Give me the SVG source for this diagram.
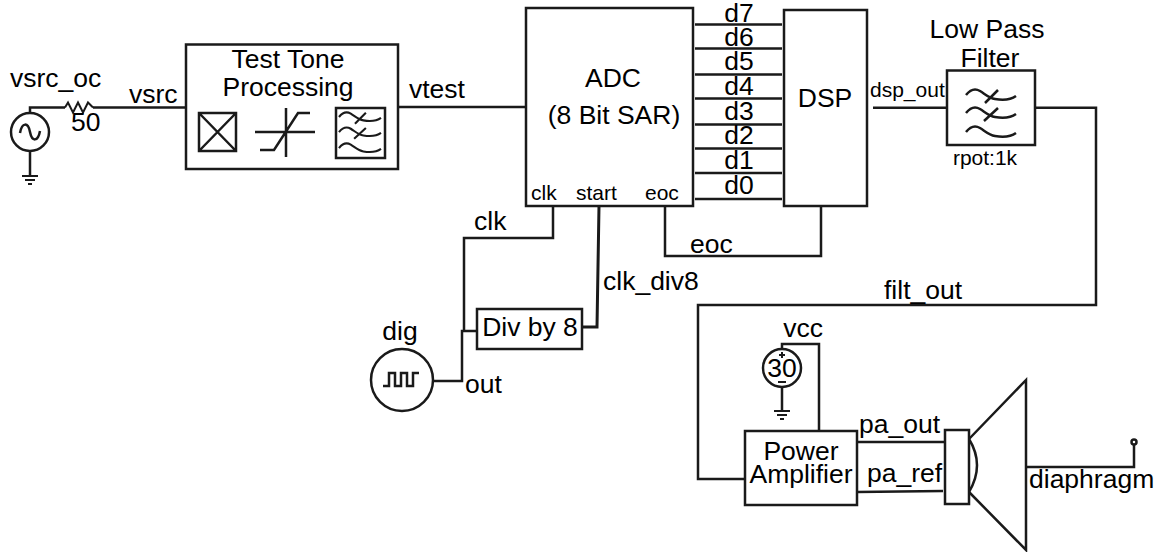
<svg xmlns="http://www.w3.org/2000/svg" width="1156" height="552" viewBox="0 0 1156 552">
<style>
text{font-family:"Liberation Sans",Arial,sans-serif;font-size:26.500px;fill:#000}
.s{font-size:21px}
.m{text-anchor:middle}
.b{fill:#fff;stroke:#1a1a1a;stroke-width:2.500}
.w{fill:none;stroke:#1a1a1a;stroke-width:2.500}
.t{fill:none;stroke:#1a1a1a;stroke-width:2}
</style>
<defs>
<g id="flt" class="w">
<path d="M0,0c4,-5 9,-7 14,-4s9,7 15,8 14,2 21,-3M0,18c4,-5 9,-7 14,-4s9,7 15,8 14,2 21,-3M0,37c4,-5 9,-7 14,-4s9,7 15,8 14,2 21,-3M19,8L32,-5M18,26L32,13"/>
</g>
<g id="gnd" class="t"><path d="M-8,0H8M-5,4H5M-2,8H2"/></g>
</defs>
<g id="connectors" class="w">
<path d="M30,113V107.500H65M93,107.500H185"/>
<path d="M65,107.500l3,-5 5,10 5,-10 5,10 5,-10 5,5" class="t"/>
<path d="M30,151V176"/>
<path d="M398,107H526"/>
<path d="M695,24.500H782M695,48.500H782M695,74.500H782M695,98.500H782M695,124.500H782M695,148.500H782M695,173H782M695,199H782"/>
<path d="M873,107.700H947M1035,107.700H1096V305H698V479H745"/>
<path d="M553,206V238H464V330"/>
<path d="M599,206L597,327H582" stroke-width="3"/>
<path d="M665,206V256H821V206"/>
<path d="M433,381H462V331H477"/>
<path d="M782,349V344H819V431M782,387V410"/>
<path d="M857,442H945M857,492L943,491"/>
<path d="M1026,467H1134V445"/>
</g>
<g id="vsrc"><circle class="w" cx="30" cy="132" r="19"/><path class="w" d="M20,133c2,-11 8,-11 10,-1s8,10 10,-1"/><use href="#gnd" x="30" y="176"/><text x="10" y="87">vsrc_oc</text><text x="129" y="103">vsrc</text><text x="71" y="131">50</text></g>
<g id="test-tone"><rect class="b" x="186" y="44.500" width="212" height="124.500"/><text class="m" x="288" y="68">Test Tone</text><text class="m" x="288" y="96">Processing</text>
<path class="w" d="M199,113H236V151H199ZM199,113L236,151M236,113L199,151"/>
<path class="w" d="M255,132H315M286,108V157M260,150H274L298,113H310"/>
<rect class="w" x="336" y="108" width="49" height="50"/><use href="#flt" transform="translate(339,117) scale(.84)"/></g>
<text x="409" y="98">vtest</text>
<g id="adc"><rect class="b" x="526" y="8" width="167" height="198"/><text class="m" x="613" y="87">ADC</text><text class="m" x="614" y="124">(8 Bit SAR)</text><text class="s" x="531" y="200">clk</text><text class="s" x="576" y="200">start</text><text class="s" x="645" y="200">eoc</text></g>
<g id="bits"><text class="m" x="739" y="22">d7</text><text class="m" x="739" y="46">d6</text><text class="m" x="739" y="70">d5</text><text class="m" x="739" y="95">d4</text><text class="m" x="739" y="120">d3</text><text class="m" x="739" y="144">d2</text><text class="m" x="739" y="169">d1</text><text class="m" x="739" y="194">d0</text></g>
<g id="dsp"><rect class="b" x="784" y="10" width="83" height="196"/><text class="m" x="825" y="107">DSP</text></g>
<text x="690" y="253">eoc</text>
<text class="s" x="870" y="97">dsp_out</text>
<g id="lpf"><rect class="b" x="947" y="70.500" width="88" height="74.500"/><use href="#flt" x="966" y="95"/><text class="m" x="987" y="38">Low Pass</text><text class="m" x="990" y="67">Filter</text><text class="s m" x="985" y="165">rpot:1k</text></g>
<text x="474" y="230">clk</text>
<text x="603" y="290">clk_div8</text>
<g id="div8"><rect class="b" x="477" y="309" width="105" height="40"/><text class="m" x="530" y="336">Div by 8</text></g>
<g id="dig"><circle class="w" cx="402" cy="380" r="31"/><path class="w" d="M383,386H389V373H395V386H401V373H407V386H413V373H419"/><text class="m" x="400" y="340">dig</text><text x="465" y="393">out</text></g>
<text x="884" y="299">filt_out</text>
<g id="vcc"><circle class="w" cx="782" cy="368" r="19"/><text class="m" x="782" y="377">30</text><path class="t" d="M779,355H785M782,352V358M778,382H786"/><use href="#gnd" x="782" y="411"/><text class="m" x="803" y="337">vcc</text></g>
<g id="pa"><rect class="b" x="745" y="431" width="112" height="74"/><text class="m" x="801" y="460">Power</text><text class="m" x="801" y="483">Amplifier</text><text x="859" y="433">pa_out</text><text x="867" y="482">pa_ref</text></g>
<g id="speaker"><path class="w" d="M969,439L1026,380V550L969,492M969,439Q985,465 969,492"/><rect class="b" x="945" y="430" width="24" height="74"/><circle class="w" cx="1134" cy="442" r="2.500"/><text x="1029" y="488">diaphragm</text></g>
</svg>
